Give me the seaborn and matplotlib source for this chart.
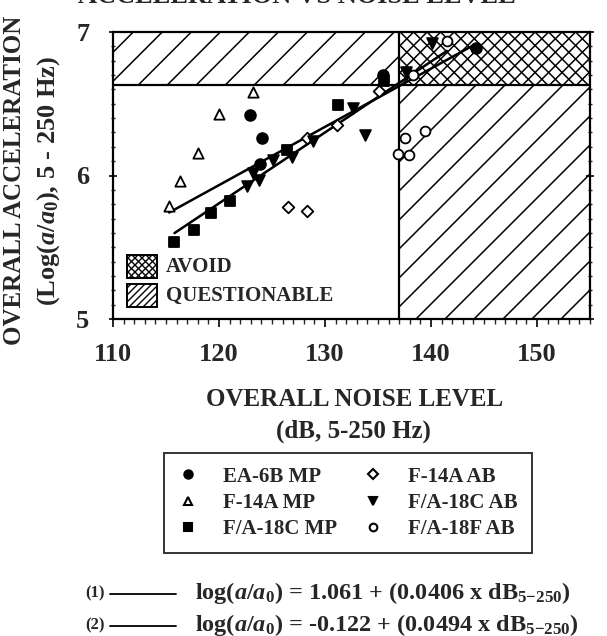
import numpy as np
import pandas as pd
import matplotlib
matplotlib.use("Agg")
import matplotlib.pyplot as plt
import seaborn as sns
from matplotlib.patches import Rectangle
from matplotlib.collections import LineCollection
from matplotlib.lines import Line2D
from matplotlib.transforms import IdentityTransform
from matplotlib.ticker import MultipleLocator

# ---------------- data ----------------
ea6b_mp_x = [122.9, 124.1, 123.9, 135.5, 144.2]
ea6b_mp_y = [6.42, 6.26, 6.08, 6.70, 6.89]
f14a_mp_x = [123.2, 120.0, 118.0, 116.3, 115.3]
f14a_mp_y = [6.58, 6.43, 6.16, 5.96, 5.79]
fa18c_mp_x = [115.8, 117.6, 119.2, 121.0, 126.4, 131.2, 135.6]
fa18c_mp_y = [5.54, 5.62, 5.74, 5.82, 6.18, 6.49, 6.66]
f14a_ab_x = [126.5, 128.3, 128.3, 131.1, 135.1]
f14a_ab_y = [5.78, 5.75, 6.26, 6.35, 6.59]
fa18c_ab_x = [122.6, 123.2, 123.8, 125.1, 126.9, 128.9, 132.6, 133.8, 137.6, 140.1]
fa18c_ab_y = [5.93, 6.02, 5.97, 6.11, 6.13, 6.24, 6.47, 6.28, 6.72, 6.92]
fa18f_ab_x = [137.5, 139.4, 136.9, 137.9, 141.5, 138.3]
fa18f_ab_y = [6.26, 6.31, 6.15, 6.14, 6.94, 6.70]

series_labels = ["EA-6B MP", "F-14A MP", "F/A-18C MP", "F-14A AB", "F/A-18C AB", "F/A-18F AB"]

# regression equations shown on the chart
eq1_a, eq1_b = 1.061, 0.0406
eq2_a, eq2_b = -0.122, 0.0494
fit1_x = [115.3, 144.2]
fit2_x = [115.8, 141.5]

# limits (dB / log accel)
noise_limit = 137.0
accel_limit = 6.63
x_ticks = [110, 120, 130, 140, 150]
y_ticks = [5, 6, 7]

# ---------------- style ----------------
sns.set_style("white")
plt.rcParams["font.family"] = ["Liberation Serif", "DejaVu Serif"]
plt.rcParams["font.weight"] = "bold"
plt.rcParams["mathtext.fontset"] = "custom"
plt.rcParams["mathtext.rm"] = "Liberation Serif:bold"
plt.rcParams["mathtext.it"] = "Liberation Serif:italic:bold"
plt.rcParams["mathtext.bf"] = "Liberation Serif:bold"

W, H = 607, 636
fig = plt.figure(figsize=(W / 100, H / 100), dpi=100)
ax = fig.add_axes([113 / W, 1 - 319 / H, 477 / W, 287 / H])
ax.set_xlim(110, 155)
ax.set_ylim(5, 7)

# ---------------- hatching helper ----------------
def hatch(ax, x0, y0, x1, y1, transform, spacing, dirs, lw=1.1, edge_lw=1.2):
    rect = Rectangle((x0, y0), x1 - x0, y1 - y0, transform=transform,
                     facecolor="none", edgecolor="none")
    ax.add_patch(rect)
    (px0, py0), (px1, py1) = transform.transform([(x0, y0), (x1, y1)])
    segs = []
    for d in dirs:
        if d > 0:   # y = x + c
            cs = np.arange(py0 - px1 - spacing, py1 - px0 + spacing, spacing)
            for c in cs:
                segs.append([(px0 - 5, px0 - 5 + c), (px1 + 5, px1 + 5 + c)])
        else:       # y = -x + c
            cs = np.arange(py0 + px0 - spacing, py1 + px1 + spacing, spacing)
            for c in cs:
                segs.append([(px0 - 5, -(px0 - 5) + c), (px1 + 5, -(px1 + 5) + c)])
    lc = LineCollection(segs, colors="black", linewidths=lw,
                        transform=IdentityTransform(), zorder=1)
    ax.add_collection(lc, autolim=False)
    lc.set_clip_path(rect)
    ax.add_patch(Rectangle((x0, y0), x1 - x0, y1 - y0, transform=transform,
                           facecolor="none", edgecolor="black", lw=edge_lw, zorder=1.5))

fig.canvas.draw()
# questionable zones
hatch(ax, 110, accel_limit, noise_limit, 7, ax.transData, 29, [1])
hatch(ax, noise_limit, 5, 155, accel_limit, ax.transData, 29, [1])
# avoid zone
hatch(ax, noise_limit, accel_limit, 155, 7, ax.transData, 13.5, [1, -1])
ax.axhline(accel_limit, color="black", lw=1.6, zorder=2)
ax.axvline(noise_limit, color="black", lw=1.6, zorder=2)

# zone key inside axes
bx0, bx1 = (127 - 113) / 477, (157 - 113) / 477
hatch(ax, bx0, 1 - (278 - 32) / 287, bx1, 1 - (255 - 32) / 287, ax.transAxes, 7, [1, -1],
      lw=1.0, edge_lw=1.4)
hatch(ax, bx0, 1 - (307 - 32) / 287, bx1, 1 - (284 - 32) / 287, ax.transAxes, 7, [1],
      lw=1.0, edge_lw=1.4)
ax.text((166 - 113) / 477, 1 - (267 - 32) / 287, "AVOID", transform=ax.transAxes,
        fontsize=15, fontweight="bold", va="center", ha="left")
ax.text((166 - 113) / 477, 1 - (296 - 32) / 287, "QUESTIONABLE", transform=ax.transAxes,
        fontsize=15, fontweight="bold", va="center", ha="left")

# ---------------- regression lines ----------------
fit1_y = [eq1_a + eq1_b * v for v in fit1_x]
fit2_y = [eq2_a + eq2_b * v for v in fit2_x]
sns.lineplot(x=fit1_x, y=fit1_y, ax=ax, color="black", lw=1.8, zorder=3)
sns.lineplot(x=fit2_x, y=fit2_y, ax=ax, color="black", lw=1.8, zorder=3)

# ---------------- scatter ----------------
specs = [
    (ea6b_mp_x, ea6b_mp_y, "o", "black", 60),
    (f14a_mp_x, f14a_mp_y, "^", "white", 55),
    (fa18c_mp_x, fa18c_mp_y, "s", "black", 50),
    (f14a_ab_x, f14a_ab_y, "D", "white", 35),
    (fa18c_ab_x, fa18c_ab_y, "v", "black", 60),
    (fa18f_ab_x, fa18f_ab_y, "o", "white", 50),
]
handles = []
for (xs, ys, m, fc, s), lab in zip(specs, series_labels):
    df = pd.DataFrame({"x": xs, "y": ys})
    sns.scatterplot(data=df, x="x", y="y", ax=ax, marker=m, s=s, facecolor=fc,
                    edgecolor="black", linewidth=1.3, zorder=4, legend=False)
    handles.append(Line2D([], [], marker=m, linestyle="none", markerfacecolor=fc,
                          markeredgecolor="black", markeredgewidth=1.5,
                          markersize=6 if fc == "black" else 5.5))

# ---------------- axes styling ----------------
ax.set_xticks(x_ticks)
ax.set_yticks(y_ticks)
ax.xaxis.set_minor_locator(MultipleLocator(1))
ax.yaxis.set_minor_locator(MultipleLocator(0.1))
ax.tick_params(axis="both", which="major", direction="out", length=6, width=1.4,
               labelsize=19, pad=11, bottom=True, left=True)
ax.tick_params(axis="y", which="major", pad=14)
ax.tick_params(axis="both", which="minor", direction="out", length=3.5, width=1.0,
               bottom=True, left=True)
ax.tick_params(axis="y", which="both", right=True, direction="inout")
for lab in ax.get_xticklabels() + ax.get_yticklabels():
    lab.set_fontweight("bold")
for sp in ax.spines.values():
    sp.set_color("black")
    sp.set_linewidth(1.6)
ax.set_xlabel("")
ax.set_ylabel("")

fig.text(355 / W, 1 - 400 / H, "OVERALL NOISE LEVEL", ha="center", va="center",
         fontsize=18, fontweight="bold")
fig.text(353 / W, 1 - 431 / H, "(dB, 5-250 Hz)", ha="center", va="center",
         fontsize=18, fontweight="bold")
fig.text(15 / W, 1 - 180 / H, "OVERALL ACCELERATION", ha="center", va="center",
         rotation=90, fontsize=18, fontweight="bold")
fig.text(49 / W, 1 - 181 / H, r"(Log($a/a_0$), 5 - 250 Hz)", ha="center", va="center",
         rotation=90, fontsize=19, fontweight="bold")
fig.text(78 / W, 1 - 3 / H, "ACCELERATION VS NOISE LEVEL", ha="left", va="baseline",
         fontsize=19, fontweight="bold")

# ---------------- legend ----------------
leg = fig.legend(handles, series_labels, ncol=2, loc="upper left",
                 bbox_to_anchor=(164 / W, 1 - 453 / H), borderaxespad=0,
                 frameon=True, fancybox=False, edgecolor="black",
                 handlelength=1.0, handletextpad=1.2, columnspacing=1.2,
                 labelspacing=0.3, borderpad=0.65,
                 prop={"weight": "bold", "size": 15})
leg.get_frame().set_linewidth(1.4)

# ---------------- equations ----------------
for yy, num, txt in [
        (593, "(1)", r"log($a/a_0$) = 1.061 + (0.0406 x dB$_{\mathrm{5{-}250}}$)"),
        (625, "(2)", r"log($a/a_0$) = -0.122 + (0.0494 x dB$_{\mathrm{5{-}250}}$)")]:
    fig.text(85 / W, 1 - yy / H, num, ha="left", va="center", fontsize=12, fontweight="bold")
    fig.add_artist(Line2D([110 / W, 176 / W], [1 - (yy + 1) / H, 1 - (yy + 1) / H],
                          color="black", lw=1.3, transform=fig.transFigure))
    fig.text(195 / W, 1 - yy / H, txt, ha="left", va="center", fontsize=17.5,
             fontweight="bold")

fig.savefig("out.png", dpi=100)
